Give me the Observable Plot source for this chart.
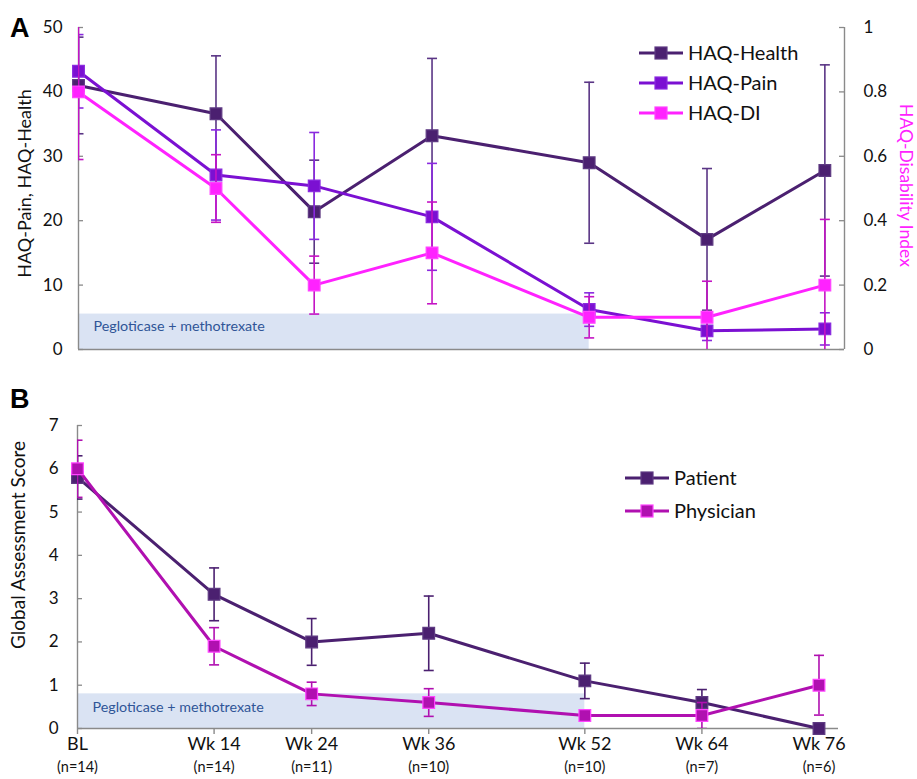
<!DOCTYPE html>
<html>
<head>
<meta charset="utf-8">
<script src="https://cdn.jsdelivr.net/npm/d3@7"></script>
<script src="https://cdn.jsdelivr.net/npm/@observablehq/plot@0.6"></script>
<style>
  body { margin: 0; background: #fff; }
  #wrap { position: relative; width: 917px; height: 779px; overflow: hidden; background: #fff; }
  #wrap > .panel { position: absolute; left: 0; }
  #overlay { position: absolute; left: 0; top: 0; pointer-events: none; }
</style>
</head>
<body>
<div id="wrap"></div>
<script>
// ---------------- DATA ----------------
const weeks = [0, 14, 24, 36, 52, 64, 76];
const weekLabels = ["BL", "Wk 14", "Wk 24", "Wk 36", "Wk 52", "Wk 64", "Wk 76"];
const nLabels = ["(n=14)", "(n=14)", "(n=11)", "(n=10)", "(n=10)", "(n=7)", "(n=6)"];

// Panel A (left axis: HAQ-Pain, HAQ-Health; right axis: HAQ-DI)
const haqHealth    = [41.0, 36.6, 21.4, 33.2, 29.0, 17.1, 27.8];
const haqHealthErr = [7.5, 9.0, 8.0, 12.0, 12.5, 11.0, 16.4];
const haqPain      = [43.2, 27.1, 25.4, 20.6, 6.2, 2.9, 3.2];
const haqPainErr   = [5.7, 7.0, 8.3, 8.3, 2.6, 1.5, 2.5];
const haqDI        = [0.80, 0.50, 0.20, 0.30, 0.10, 0.10, 0.20];
const haqDIErr     = [0.21, 0.105, 0.09, 0.158, 0.064, 0.112, 0.204];
const leftTicksA   = [0, 10, 20, 30, 40, 50];
const rightTicksA  = [0, 0.2, 0.4, 0.6, 0.8, 1];

// Panel B (Global Assessment Score)
const patient      = [5.8, 3.1, 2.0, 2.2, 1.1, 0.6, 0.0];
const patientErr   = [0.5, 0.61, 0.54, 0.86, 0.41, 0.3, 0.0];
const physician    = [6.0, 1.9, 0.8, 0.6, 0.3, 0.3, 1.0];
const physicianErr = [0.66, 0.43, 0.27, 0.32, 0.1, 0.3, 0.69];
const ticksB       = [0, 1, 2, 3, 4, 5, 6, 7];

// Treatment period shading
const shadeLabel = "Pegloticase + methotrexate";
const shadeA = [{start: 0, end: 52, top: 5.5}];
const shadeB = [{start: 0, end: 52, top: 0.8}];

// ---------------- STYLE ----------------
const FONT = "Lato, 'Open Sans', 'DejaVu Sans', sans-serif";
const AX = "#8a8a8a";
const C = {
  health:    {line: "#4B2070", fill: "#4B2070", stroke: "#5E3A82", err: "#5A3585"},
  pain:      {line: "#7B10D2", fill: "#7B10D2", stroke: "#8A2ADF", err: "#8A2ADF"},
  di:        {line: "#FF22FF", fill: "#FF22FF", stroke: "#FF44FF", err: "#C414C4"},
  patient:   {line: "#4B2070", fill: "#4B2070", stroke: "#5E3A82", err: "#4B2070"},
  physician: {line: "#B010B0", fill: "#B010B0", stroke: "#FF44FF", err: "#B010B0"}
};
const X_MAX = 78;
const LEFT_MAX_A = 50, RIGHT_MAX_A = 1;
const DI_FACTOR = LEFT_MAX_A / RIGHT_MAX_A;

const cap = {draw(ctx, size) { const r = Math.sqrt(size / Math.PI); ctx.moveTo(-r, 0); ctx.lineTo(r, 0); }};

function rowsFor(values, err, factor = 1) {
  return weeks.map((w, i) => ({
    week: w,
    y: values[i] * factor,
    lo: (values[i] - err[i]) * factor,
    hi: (values[i] + err[i]) * factor
  }));
}

function seriesMarks(rows, c, lw = 3) {
  return [
    Plot.ruleX(rows, {x: "week", y1: "lo", y2: "hi", stroke: c.err, strokeWidth: 1.6, clip: true}),
    Plot.dot(rows, {x: "week", y: "lo", symbol: cap, r: 5, stroke: c.err, strokeWidth: 1.6, fill: "none", clip: true}),
    Plot.dot(rows, {x: "week", y: "hi", symbol: cap, r: 5, stroke: c.err, strokeWidth: 1.6, fill: "none", clip: true}),
    Plot.line(rows, {x: "week", y: "y", stroke: c.line, strokeWidth: lw}),
    Plot.dot(rows, {x: "week", y: "y", symbol: "square", r: 6.6, fill: c.fill, stroke: c.stroke, strokeWidth: 1.2})
  ];
}

const wrap = document.getElementById("wrap");

// ---------------- PANEL A ----------------
const A = {width: 917, height: 370, ml: 78, mr: 73, mt: 27, mb: 21};
const plotWA = A.width - A.ml - A.mr;
const plotA = Plot.plot({
  width: A.width, height: A.height,
  marginLeft: A.ml, marginRight: A.mr, marginTop: A.mt, marginBottom: A.mb,
  x: {domain: [0, X_MAX], axis: null},
  y: {domain: [0, LEFT_MAX_A]},
  style: {fontFamily: FONT, fontSize: "17px", color: "#111", background: "transparent", overflow: "visible"},
  marks: [
    Plot.rect(shadeA, {x1: "start", x2: "end", y1: 0, y2: "top", fill: "#DAE3F3"}),
    Plot.text([shadeLabel], {text: d => d, frameAnchor: "bottom-left", dx: 15, dy: -19, textAnchor: "start", fontSize: 14.3, fill: "#2F5597"}),
    Plot.ruleY([0], {stroke: AX, strokeWidth: 1.4}),
    Plot.ruleX([0], {stroke: AX, strokeWidth: 1.4}),
    Plot.ruleX([X_MAX], {stroke: AX, strokeWidth: 1.4}),
    Plot.tickY(leftTicksA, {y: d => d, insetRight: plotWA - 5, stroke: AX, strokeWidth: 1.3}),
    Plot.tickY(rightTicksA.map(v => v * DI_FACTOR), {y: d => d, insetLeft: plotWA - 5, stroke: AX, strokeWidth: 1.3}),
    Plot.axisY({anchor: "left", ticks: leftTicksA, tickSize: 0, tickPadding: 16, tickFormat: d => String(d), label: null}),
    Plot.axisY({anchor: "right", ticks: rightTicksA.map(v => v * DI_FACTOR), tickSize: 0, tickPadding: 19,
                tickFormat: v => String(+(v / DI_FACTOR).toFixed(2)), label: null}),
    Plot.text(["HAQ-Pain, HAQ-Health"], {text: d => d, frameAnchor: "left", textAnchor: "middle", rotate: -90, dx: -53, dy: -5, fontSize: 18}),
    Plot.text(["HAQ-Disability Index"], {text: d => d, frameAnchor: "right", textAnchor: "middle", rotate: 90, dx: 61, dy: -3, fontSize: 17.5, fill: "#FF22FF"}),
    ...seriesMarks(rowsFor(haqHealth, haqHealthErr), C.health),
    ...seriesMarks(rowsFor(haqPain, haqPainErr), C.pain),
    ...seriesMarks(rowsFor(haqDI, haqDIErr, DI_FACTOR), C.di)
  ]
});
plotA.classList.add("panel");
plotA.style.top = "0px";
wrap.appendChild(plotA);

// ---------------- PANEL B ----------------
const B = {width: 917, height: 409, ml: 77, mr: 79, mt: 55, mb: 51};
const plotWB = B.width - B.ml - B.mr;
const plotB = Plot.plot({
  width: B.width, height: B.height,
  marginLeft: B.ml, marginRight: B.mr, marginTop: B.mt, marginBottom: B.mb,
  x: {domain: [0, X_MAX]},
  y: {domain: [0, 7]},
  style: {fontFamily: FONT, fontSize: "17px", color: "#111", background: "transparent", overflow: "visible"},
  marks: [
    Plot.rect(shadeB, {x1: "start", x2: "end", y1: 0, y2: "top", fill: "#DAE3F3"}),
    Plot.text([shadeLabel], {text: d => d, frameAnchor: "bottom-left", dx: 15, dy: -17, textAnchor: "start", fontSize: 14.3, fill: "#2F5597"}),
    Plot.ruleY([0], {stroke: AX, strokeWidth: 1.4}),
    Plot.ruleX([0], {stroke: AX, strokeWidth: 1.4}),
    Plot.tickY(ticksB, {y: d => d, insetRight: plotWB - 5, stroke: AX, strokeWidth: 1.3}),
    Plot.axisY({anchor: "left", ticks: ticksB, tickSize: 0, tickPadding: 19, tickFormat: d => String(d), label: null}),
    Plot.axisX({ticks: weeks, tickSize: 6, stroke: AX, strokeWidth: 1.4, tickFormat: () => "", label: null}),
    Plot.text(weeks, {x: d => d, text: (d, i) => weekLabels[i], frameAnchor: "bottom", dy: 21, fontSize: 18}),
    Plot.text(weeks, {x: d => d, text: (d, i) => nLabels[i], frameAnchor: "bottom", dy: 43, fontSize: 14.5}),
    Plot.text(["Global Assessment Score"], {text: d => d, frameAnchor: "left", textAnchor: "middle", rotate: -90, dx: -59, dy: -32, fontSize: 19}),
    ...seriesMarks(rowsFor(patient, patientErr), C.patient),
    ...seriesMarks(rowsFor(physician, physicianErr), C.physician)
  ]
});
plotB.classList.add("panel");
plotB.style.top = A.height + "px";
wrap.appendChild(plotB);

// ---------------- OVERLAY: panel letters & legends ----------------
const ov = d3.select(wrap).append("svg").attr("id", "overlay")
  .attr("width", 917).attr("height", 779);

ov.append("text").attr("x", 10).attr("y", 37).text("A")
  .attr("font-family", "'Liberation Sans', Arial, sans-serif").attr("font-weight", "bold").attr("font-size", 27);
ov.append("text").attr("x", 10).attr("y", 408).text("B")
  .attr("font-family", "'Liberation Sans', Arial, sans-serif").attr("font-weight", "bold").attr("font-size", 27);

function legend(items, x0, y0, gap) {
  items.forEach((it, i) => {
    const y = y0 + i * gap;
    const g = ov.append("g");
    g.append("line").attr("x1", x0).attr("x2", x0 + 44).attr("y1", y).attr("y2", y)
      .attr("stroke", it.c.line).attr("stroke-width", 3);
    g.append("rect").attr("x", x0 + 22 - 6).attr("y", y - 6).attr("width", 12).attr("height", 12)
      .attr("fill", it.c.fill).attr("stroke", it.c.stroke).attr("stroke-width", 1.2);
    g.append("text").attr("x", x0 + 49).attr("y", y).attr("dy", "0.36em").text(it.name)
      .attr("font-family", FONT).attr("font-size", 20).attr("fill", "#111");
  });
}
legend([{name: "HAQ-Health", c: C.health}, {name: "HAQ-Pain", c: C.pain}, {name: "HAQ-DI", c: C.di}], 639, 53, 30);
legend([{name: "Patient", c: C.patient}, {name: "Physician", c: C.physician}], 625, 478, 33);
</script>
</body>
</html>
